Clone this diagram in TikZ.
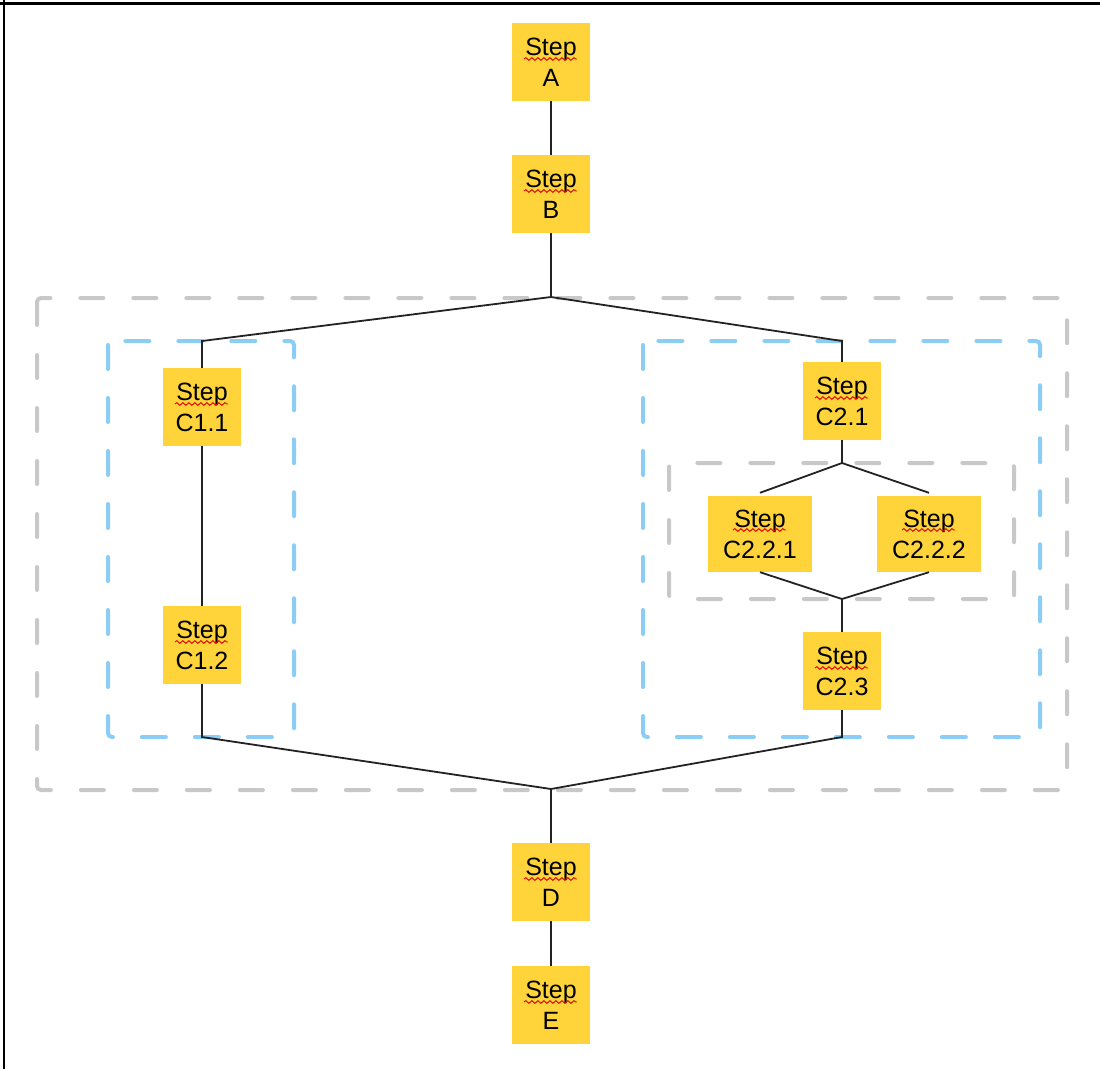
\documentclass[tikz,border=0pt]{standalone}
\usepackage{fontspec}
\setmainfont{Liberation Sans}
\usetikzlibrary{decorations.pathmorphing}
\definecolor{stepyellow}{RGB}{254,212,58}
\definecolor{grpgray}{RGB}{200,200,200}
\definecolor{grpblue}{RGB}{140,205,245}
\definecolor{linkc}{RGB}{35,35,35}
\begin{document}
\begin{tikzpicture}[x=1pt,y=-1pt,
 stepbox/.style={fill=stepyellow, minimum width=78pt, minimum height=78pt, inner sep=0pt, align=center, font=\fontsize{25}{31}\selectfont, text=black},
 widebox/.style={stepbox, minimum width=104pt, minimum height=76pt},
 link/.style={draw=linkc, line width=1.8pt},
 graygroup/.style={draw=grpgray, line width=4pt, line cap=round, dash pattern=on 23pt off 30pt, rounded corners=4pt},
 bluegroup/.style={draw=grpblue, line width=4pt, line cap=round, dash pattern=on 24pt off 29pt, rounded corners=4pt},
 squig/.style={draw=red!85!black, line width=0.9pt, decorate, decoration={snake, amplitude=1.4pt, segment length=6pt}}
]
\useasboundingbox (0,0) rectangle (1100,1069);
\fill[white] (0,0) rectangle (1100,1069);
% frame
\draw[line width=3pt] (0,3) -- (1100,3);
\draw[line width=2.5pt] (4,0) -- (4,1069);
% groups
\draw[graygroup] (37,298) rectangle (1067,790);
\draw[bluegroup] (108,341) rectangle (294,737);
\draw[bluegroup] (643,341) rectangle (1040,737);
\draw[graygroup] (669,463) rectangle (1014,599);
% nodes
\node[stepbox] (A) at (551,62) {Step\\A};
\node[stepbox] (B) at (551,194) {Step\\B};
\node[stepbox] (C11) at (202,407) {Step\\C1.1};
\node[stepbox] (C12) at (202,645) {Step\\C1.2};
\node[stepbox] (C21) at (842,401) {Step\\C2.1};
\node[widebox] (C221) at (760,534) {Step\\C2.2.1};
\node[widebox] (C222) at (929,534) {Step\\C2.2.2};
\node[stepbox] (C23) at (842,671) {Step\\C2.3};
\node[stepbox] (D) at (551,882) {Step\\D};
\node[stepbox] (E) at (551,1005) {Step\\E};
% spell-check underlines
\foreach \n in {A,B,C11,C12,C21,C23,D,E}
  \draw[squig] ([shift={(-27,-3)}]\n.center) -- ([shift={(26,-3)}]\n.center);
\foreach \n in {C221,C222}
  \draw[squig] ([shift={(-27,-4)}]\n.center) -- ([shift={(26,-4)}]\n.center);
% junctions
\coordinate (j1) at (551,297);
\coordinate (c1top) at (202,341);
\coordinate (c2top) at (842,341);
\coordinate (c1bot) at (202,737);
\coordinate (c2bot) at (842,737);
\coordinate (j2) at (551,789);
\coordinate (j3) at (842,463);
\coordinate (j4) at (842,599);
% links
\draw[link] (A) -- (B);
\draw[link] (B) -- (j1);
\draw[link] (j1) -- (c1top) -- (C11);
\draw[link] (j1) -- (c2top) -- (C21);
\draw[link] (C11) -- (C12);
\draw[link] (C12) -- (c1bot) -- (j2);
\draw[link] (C23) -- (c2bot) -- (j2);
\draw[link] (j2) -- (D);
\draw[link] (D) -- (E);
\draw[link] (C21) -- (j3);
\draw[link] (j3) -- ([yshift=3pt]C221.north);
\draw[link] (j3) -- ([yshift=3pt]C222.north);
\draw[link] (C221.south) -- (j4) -- (C222.south);
\draw[link] (j4) -- (C23);
\end{tikzpicture}
\end{document}
